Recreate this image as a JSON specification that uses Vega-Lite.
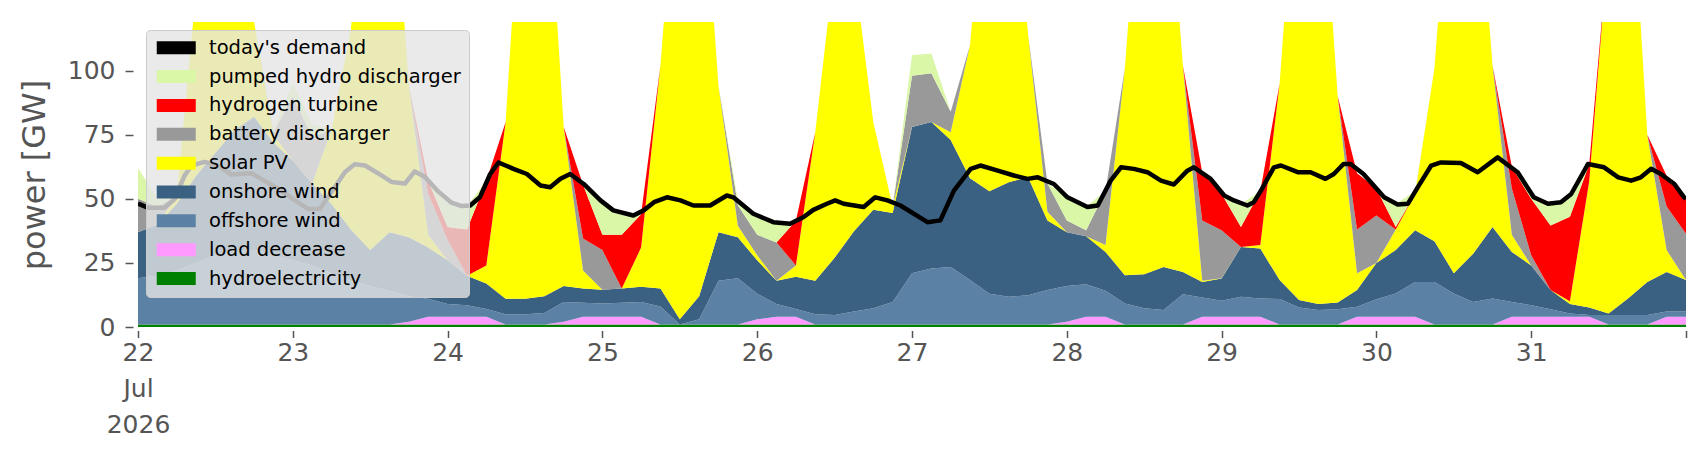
{
  "$schema": "https://vega.github.io/schema/vega-lite/v6.json",
  "width": 1548,
  "height": 305,
  "autosize": "none",
  "padding": {"left": 138, "top": 22, "right": 20, "bottom": 133},
  "background": "white",
  "config": {
    "view": {"stroke": null},
    "font": "DejaVu Sans",
    "axis": {
      "grid": false,
      "domain": false,
      "tickColor": "#555555",
      "tickWidth": 1.5,
      "labelColor": "#555555",
      "labelFontSize": 25,
      "titleColor": "#555555",
      "titleFontWeight": "normal"
    }
  },
  "datasets": {
    "carriers": [
      {"key": "hydro", "carrier": "hydroelectricity", "rank": 1},
      {"key": "load", "carrier": "load decrease", "rank": 2},
      {"key": "offwind", "carrier": "offshore wind", "rank": 3},
      {"key": "onwind", "carrier": "onshore wind", "rank": 4},
      {"key": "solar", "carrier": "solar PV", "rank": 5},
      {"key": "battery", "carrier": "battery discharger", "rank": 6},
      {"key": "h2", "carrier": "hydrogen turbine", "rank": 7},
      {"key": "phs", "carrier": "pumped hydro discharger", "rank": 8}
    ],
    "gen": [
      {"t": "2026-07-22T00:00Z", "hydro": 1, "load": 0, "offwind": 18, "onwind": 18, "solar": 0, "battery": 13, "h2": 0, "phs": 12},
      {"t": "2026-07-22T03:00Z", "hydro": 1, "load": 0, "offwind": 19, "onwind": 20, "solar": 0, "battery": 7, "h2": 0, "phs": 3},
      {"t": "2026-07-22T06:00Z", "hydro": 1, "load": 0, "offwind": 21, "onwind": 26, "solar": 3, "battery": 0, "h2": 0, "phs": 0},
      {"t": "2026-07-22T09:00Z", "hydro": 1, "load": 0, "offwind": 24, "onwind": 34, "solar": 72, "battery": 0, "h2": 0, "phs": 0},
      {"t": "2026-07-22T12:00Z", "hydro": 1, "load": 0, "offwind": 27, "onwind": 40, "solar": 132, "battery": 0, "h2": 0, "phs": 0},
      {"t": "2026-07-22T15:00Z", "hydro": 1, "load": 0, "offwind": 29, "onwind": 47, "solar": 123, "battery": 0, "h2": 0, "phs": 0},
      {"t": "2026-07-22T18:00Z", "hydro": 1, "load": 0, "offwind": 29, "onwind": 52, "solar": 37, "battery": 0, "h2": 0, "phs": 0},
      {"t": "2026-07-22T21:00Z", "hydro": 1, "load": 0, "offwind": 27, "onwind": 44, "solar": 3, "battery": 1, "h2": 0, "phs": 1},
      {"t": "2026-07-23T00:00Z", "hydro": 1, "load": 0, "offwind": 25, "onwind": 39, "solar": 0, "battery": 25, "h2": 0, "phs": 5},
      {"t": "2026-07-23T03:00Z", "hydro": 1, "load": 0, "offwind": 23, "onwind": 32, "solar": 0, "battery": 18, "h2": 0, "phs": 5},
      {"t": "2026-07-23T06:00Z", "hydro": 1, "load": 0, "offwind": 20, "onwind": 27, "solar": 29, "battery": 0, "h2": 0, "phs": 0},
      {"t": "2026-07-23T09:00Z", "hydro": 1, "load": 0, "offwind": 17, "onwind": 20, "solar": 78, "battery": 0, "h2": 0, "phs": 0},
      {"t": "2026-07-23T12:00Z", "hydro": 1, "load": 0, "offwind": 15, "onwind": 14, "solar": 170, "battery": 0, "h2": 0, "phs": 0},
      {"t": "2026-07-23T15:00Z", "hydro": 1, "load": 0, "offwind": 13, "onwind": 23, "solar": 163, "battery": 0, "h2": 0, "phs": 0},
      {"t": "2026-07-23T18:00Z", "hydro": 1, "load": 1, "offwind": 10, "onwind": 23, "solar": 59, "battery": 0, "h2": 0, "phs": 0},
      {"t": "2026-07-23T21:00Z", "hydro": 1, "load": 3, "offwind": 7, "onwind": 20, "solar": 5, "battery": 16, "h2": 5, "phs": 0},
      {"t": "2026-07-24T00:00Z", "hydro": 1, "load": 3, "offwind": 5, "onwind": 17, "solar": 0, "battery": 8, "h2": 5, "phs": 9},
      {"t": "2026-07-24T03:00Z", "hydro": 1, "load": 3, "offwind": 4.5, "onwind": 11.5, "solar": 0, "battery": 0, "h2": 18, "phs": 9},
      {"t": "2026-07-24T06:00Z", "hydro": 1, "load": 3, "offwind": 3, "onwind": 10, "solar": 7, "battery": 0, "h2": 33, "phs": 0},
      {"t": "2026-07-24T09:00Z", "hydro": 1, "load": 0, "offwind": 4, "onwind": 6, "solar": 69, "battery": 0, "h2": 0, "phs": 0},
      {"t": "2026-07-24T12:00Z", "hydro": 1, "load": 0, "offwind": 4, "onwind": 6, "solar": 189, "battery": 0, "h2": 0, "phs": 0},
      {"t": "2026-07-24T15:00Z", "hydro": 1, "load": 0, "offwind": 4.5, "onwind": 6.5, "solar": 188, "battery": 0, "h2": 0, "phs": 0},
      {"t": "2026-07-24T18:00Z", "hydro": 1, "load": 1, "offwind": 7.8, "onwind": 6.2, "solar": 62, "battery": 0, "h2": 0, "phs": 0},
      {"t": "2026-07-24T21:00Z", "hydro": 1, "load": 3, "offwind": 5.5, "onwind": 5.5, "solar": 7, "battery": 12.5, "h2": 21, "phs": 0},
      {"t": "2026-07-25T00:00Z", "hydro": 1, "load": 3, "offwind": 5.2, "onwind": 5.3, "solar": 0, "battery": 15.5, "h2": 6, "phs": 12},
      {"t": "2026-07-25T03:00Z", "hydro": 1, "load": 3, "offwind": 5.5, "onwind": 5.5, "solar": 0, "battery": 0, "h2": 21, "phs": 8.5},
      {"t": "2026-07-25T06:00Z", "hydro": 1, "load": 3, "offwind": 5.8, "onwind": 5.9, "solar": 15.3, "battery": 0, "h2": 13, "phs": 0},
      {"t": "2026-07-25T09:00Z", "hydro": 1, "load": 0, "offwind": 7, "onwind": 7, "solar": 87, "battery": 0, "h2": 0, "phs": 0},
      {"t": "2026-07-25T12:00Z", "hydro": 1, "load": 0, "offwind": 0, "onwind": 2, "solar": 197, "battery": 0, "h2": 0, "phs": 0},
      {"t": "2026-07-25T15:00Z", "hydro": 1, "load": 0, "offwind": 2, "onwind": 9, "solar": 188, "battery": 0, "h2": 0, "phs": 0},
      {"t": "2026-07-25T18:00Z", "hydro": 1, "load": 0, "offwind": 17, "onwind": 19, "solar": 57, "battery": 0, "h2": 0, "phs": 0},
      {"t": "2026-07-25T21:00Z", "hydro": 1, "load": 0, "offwind": 18, "onwind": 16, "solar": 4.5, "battery": 8, "h2": 0, "phs": 2},
      {"t": "2026-07-26T00:00Z", "hydro": 1, "load": 2, "offwind": 10, "onwind": 13, "solar": 2, "battery": 8, "h2": 0, "phs": 6.5},
      {"t": "2026-07-26T03:00Z", "hydro": 1, "load": 3, "offwind": 5, "onwind": 9, "solar": 0, "battery": 15, "h2": 0, "phs": 7.6},
      {"t": "2026-07-26T06:00Z", "hydro": 1, "load": 3, "offwind": 3, "onwind": 12.6, "solar": 4.4, "battery": 0, "h2": 17.5, "phs": 0},
      {"t": "2026-07-26T09:00Z", "hydro": 1, "load": 0, "offwind": 4, "onwind": 13, "solar": 58, "battery": 0, "h2": 0, "phs": 0},
      {"t": "2026-07-26T12:00Z", "hydro": 1, "load": 0, "offwind": 3.7, "onwind": 22.3, "solar": 115, "battery": 0, "h2": 0, "phs": 0},
      {"t": "2026-07-26T15:00Z", "hydro": 1, "load": 0, "offwind": 5, "onwind": 31.4, "solar": 102.6, "battery": 0, "h2": 0, "phs": 0},
      {"t": "2026-07-26T18:00Z", "hydro": 1, "load": 0, "offwind": 6.3, "onwind": 38.4, "solar": 34.3, "battery": 0, "h2": 0, "phs": 0},
      {"t": "2026-07-26T21:00Z", "hydro": 1, "load": 0, "offwind": 8.8, "onwind": 34.7, "solar": 2.5, "battery": 0, "h2": 0, "phs": 0},
      {"t": "2026-07-27T00:00Z", "hydro": 1, "load": 0, "offwind": 20, "onwind": 57, "solar": 0, "battery": 20, "h2": 0, "phs": 8},
      {"t": "2026-07-27T03:00Z", "hydro": 1, "load": 0, "offwind": 21.8, "onwind": 57.2, "solar": 0, "battery": 19, "h2": 0, "phs": 7.7},
      {"t": "2026-07-27T06:00Z", "hydro": 1, "load": 0, "offwind": 22.4, "onwind": 49.6, "solar": 3, "battery": 8, "h2": 0, "phs": 0},
      {"t": "2026-07-27T09:00Z", "hydro": 1, "load": 0, "offwind": 17.3, "onwind": 39.7, "solar": 52, "battery": 0, "h2": 0, "phs": 0},
      {"t": "2026-07-27T12:00Z", "hydro": 1, "load": 0, "offwind": 12, "onwind": 40, "solar": 147, "battery": 0, "h2": 0, "phs": 0},
      {"t": "2026-07-27T15:00Z", "hydro": 1, "load": 0, "offwind": 10.8, "onwind": 44.7, "solar": 143.5, "battery": 0, "h2": 0, "phs": 0},
      {"t": "2026-07-27T18:00Z", "hydro": 1, "load": 0, "offwind": 11.4, "onwind": 46, "solar": 55.6, "battery": 0, "h2": 0, "phs": 0},
      {"t": "2026-07-27T21:00Z", "hydro": 1, "load": 0, "offwind": 13.4, "onwind": 27.2, "solar": 3.4, "battery": 11, "h2": 0, "phs": 0},
      {"t": "2026-07-28T00:00Z", "hydro": 1, "load": 1, "offwind": 14, "onwind": 21, "solar": 0, "battery": 4.6, "h2": 0, "phs": 9.2},
      {"t": "2026-07-28T03:00Z", "hydro": 1, "load": 3, "offwind": 12.7, "onwind": 18.7, "solar": 0, "battery": 2.3, "h2": 0, "phs": 9.3},
      {"t": "2026-07-28T06:00Z", "hydro": 1, "load": 3, "offwind": 10.1, "onwind": 15.2, "solar": 2.7, "battery": 21, "h2": 0, "phs": 0},
      {"t": "2026-07-28T09:00Z", "hydro": 1, "load": 0, "offwind": 8.2, "onwind": 11, "solar": 80.8, "battery": 0, "h2": 0, "phs": 0},
      {"t": "2026-07-28T12:00Z", "hydro": 1, "load": 0, "offwind": 6.3, "onwind": 13.3, "solar": 179.4, "battery": 0, "h2": 0, "phs": 0},
      {"t": "2026-07-28T15:00Z", "hydro": 1, "load": 0, "offwind": 5.6, "onwind": 16.8, "solar": 176.6, "battery": 0, "h2": 0, "phs": 0},
      {"t": "2026-07-28T18:00Z", "hydro": 1, "load": 0, "offwind": 11.8, "onwind": 8.7, "solar": 80.5, "battery": 0, "h2": 0, "phs": 0},
      {"t": "2026-07-28T21:00Z", "hydro": 1, "load": 3, "offwind": 7.5, "onwind": 6.1, "solar": 0.4, "battery": 23.6, "h2": 18.7, "phs": 0},
      {"t": "2026-07-29T00:00Z", "hydro": 1, "load": 3, "offwind": 6.2, "onwind": 8.7, "solar": 0.1, "battery": 18.7, "h2": 14.3, "phs": 0},
      {"t": "2026-07-29T03:00Z", "hydro": 1, "load": 3, "offwind": 7.8, "onwind": 19.4, "solar": 0, "battery": 0, "h2": 7.8, "phs": 9},
      {"t": "2026-07-29T06:00Z", "hydro": 1, "load": 3, "offwind": 7.1, "onwind": 19.5, "solar": 1.4, "battery": 0, "h2": 21, "phs": 0},
      {"t": "2026-07-29T09:00Z", "hydro": 1, "load": 0, "offwind": 9.9, "onwind": 7.4, "solar": 76.7, "battery": 0, "h2": 0, "phs": 0},
      {"t": "2026-07-29T12:00Z", "hydro": 1, "load": 0, "offwind": 6.6, "onwind": 2.9, "solar": 189.5, "battery": 0, "h2": 0, "phs": 0},
      {"t": "2026-07-29T15:00Z", "hydro": 1, "load": 0, "offwind": 5.6, "onwind": 2.4, "solar": 191, "battery": 0, "h2": 0, "phs": 0},
      {"t": "2026-07-29T18:00Z", "hydro": 1, "load": 0, "offwind": 5.9, "onwind": 2.7, "solar": 80.4, "battery": 0, "h2": 0, "phs": 0},
      {"t": "2026-07-29T21:00Z", "hydro": 1, "load": 3, "offwind": 3.9, "onwind": 6.5, "solar": 6.6, "battery": 17, "h2": 22, "phs": 0},
      {"t": "2026-07-30T00:00Z", "hydro": 1, "load": 3, "offwind": 6.8, "onwind": 14.2, "solar": 0, "battery": 18.5, "h2": 10.5, "phs": 0},
      {"t": "2026-07-30T03:00Z", "hydro": 1, "load": 3, "offwind": 9.1, "onwind": 16.9, "solar": 8, "battery": 0, "h2": 1, "phs": 9},
      {"t": "2026-07-30T06:00Z", "hydro": 1, "load": 3, "offwind": 13.6, "onwind": 20.1, "solar": 14.3, "battery": 0, "h2": 0, "phs": 1},
      {"t": "2026-07-30T09:00Z", "hydro": 1, "load": 0, "offwind": 16.6, "onwind": 15.9, "solar": 67.5, "battery": 0, "h2": 0, "phs": 0},
      {"t": "2026-07-30T12:00Z", "hydro": 1, "load": 0, "offwind": 12.1, "onwind": 7.9, "solar": 179, "battery": 0, "h2": 0, "phs": 0},
      {"t": "2026-07-30T15:00Z", "hydro": 1, "load": 0, "offwind": 8.8, "onwind": 18.8, "solar": 171.4, "battery": 0, "h2": 0, "phs": 0},
      {"t": "2026-07-30T18:00Z", "hydro": 1, "load": 0, "offwind": 10.1, "onwind": 27.9, "solar": 63, "battery": 0, "h2": 0, "phs": 0},
      {"t": "2026-07-30T21:00Z", "hydro": 1, "load": 3, "offwind": 5.8, "onwind": 19.5, "solar": 6.7, "battery": 18, "h2": 8.5, "phs": 0},
      {"t": "2026-07-31T00:00Z", "hydro": 1, "load": 3, "offwind": 4.5, "onwind": 15.5, "solar": 0, "battery": 4, "h2": 22, "phs": 2},
      {"t": "2026-07-31T03:00Z", "hydro": 1, "load": 3, "offwind": 2.9, "onwind": 7.5, "solar": 0, "battery": 0, "h2": 25.2, "phs": 8.4},
      {"t": "2026-07-31T06:00Z", "hydro": 1, "load": 3, "offwind": 1.3, "onwind": 3.7, "solar": 1, "battery": 0, "h2": 33, "phs": 8},
      {"t": "2026-07-31T09:00Z", "hydro": 1, "load": 3, "offwind": 0.7, "onwind": 2.9, "solar": 49.4, "battery": 0, "h2": 6.5, "phs": 0},
      {"t": "2026-07-31T12:00Z", "hydro": 1, "load": 0, "offwind": 3.7, "onwind": 0.6, "solar": 144.7, "battery": 0, "h2": 0, "phs": 0},
      {"t": "2026-07-31T15:00Z", "hydro": 1, "load": 0, "offwind": 3.7, "onwind": 6.4, "solar": 188.9, "battery": 0, "h2": 0, "phs": 0},
      {"t": "2026-07-31T18:00Z", "hydro": 1, "load": 0, "offwind": 3.7, "onwind": 12.9, "solar": 57.4, "battery": 0, "h2": 0, "phs": 0},
      {"t": "2026-07-31T21:00Z", "hydro": 1, "load": 3, "offwind": 2, "onwind": 15.5, "solar": 8.5, "battery": 17, "h2": 12, "phs": 0},
      {"t": "2026-08-01T00:00Z", "hydro": 1, "load": 3, "offwind": 2, "onwind": 12.3, "solar": 0, "battery": 18.1, "h2": 13.6, "phs": 0}
    ],
    "demand": [
      {"t": "2026-07-22T00:00Z", "GW": 48.2}, {"t": "2026-07-22T01:36Z", "GW": 46.5}, {"t": "2026-07-22T04:06Z", "GW": 46.5},
      {"t": "2026-07-22T05:42Z", "GW": 50}, {"t": "2026-07-22T07:12Z", "GW": 59}, {"t": "2026-07-22T08:18Z", "GW": 63},
      {"t": "2026-07-22T10:18Z", "GW": 64.4}, {"t": "2026-07-22T12:24Z", "GW": 63}, {"t": "2026-07-22T14:30Z", "GW": 59.5},
      {"t": "2026-07-22T17:36Z", "GW": 60}, {"t": "2026-07-22T19:36Z", "GW": 57}, {"t": "2026-07-22T21:42Z", "GW": 54},
      {"t": "2026-07-23T00:18Z", "GW": 49.5}, {"t": "2026-07-23T02:24Z", "GW": 46}, {"t": "2026-07-23T04:12Z", "GW": 46},
      {"t": "2026-07-23T06:00Z", "GW": 52.7}, {"t": "2026-07-23T08:06Z", "GW": 60.5}, {"t": "2026-07-23T09:36Z", "GW": 63.5},
      {"t": "2026-07-23T11:12Z", "GW": 63}, {"t": "2026-07-23T13:12Z", "GW": 60}, {"t": "2026-07-23T15:18Z", "GW": 56.6},
      {"t": "2026-07-23T17:24Z", "GW": 56}, {"t": "2026-07-23T18:54Z", "GW": 60.7}, {"t": "2026-07-23T20:30Z", "GW": 58.5},
      {"t": "2026-07-23T22:30Z", "GW": 53}, {"t": "2026-07-24T00:36Z", "GW": 48.5}, {"t": "2026-07-24T02:12Z", "GW": 47.2},
      {"t": "2026-07-24T03:30Z", "GW": 47.4}, {"t": "2026-07-24T05:00Z", "GW": 50.6}, {"t": "2026-07-24T06:36Z", "GW": 59.7},
      {"t": "2026-07-24T07:54Z", "GW": 64.2}, {"t": "2026-07-24T10:12Z", "GW": 61.7}, {"t": "2026-07-24T12:18Z", "GW": 59.7},
      {"t": "2026-07-24T14:24Z", "GW": 55.2}, {"t": "2026-07-24T15:54Z", "GW": 54.5}, {"t": "2026-07-24T17:30Z", "GW": 57.8},
      {"t": "2026-07-24T19:00Z", "GW": 59.7}, {"t": "2026-07-24T21:06Z", "GW": 55.8}, {"t": "2026-07-24T23:42Z", "GW": 49.4},
      {"t": "2026-07-25T01:42Z", "GW": 45.5}, {"t": "2026-07-25T04:48Z", "GW": 43.5}, {"t": "2026-07-25T06:24Z", "GW": 45.5},
      {"t": "2026-07-25T08:00Z", "GW": 48.7}, {"t": "2026-07-25T10:00Z", "GW": 50.6}, {"t": "2026-07-25T12:06Z", "GW": 49.4},
      {"t": "2026-07-25T14:06Z", "GW": 47.4}, {"t": "2026-07-25T16:42Z", "GW": 47.4}, {"t": "2026-07-25T19:18Z", "GW": 51.3},
      {"t": "2026-07-25T20:18Z", "GW": 50.6}, {"t": "2026-07-25T23:24Z", "GW": 44.2}, {"t": "2026-07-26T02:30Z", "GW": 40.9},
      {"t": "2026-07-26T05:06Z", "GW": 40.3}, {"t": "2026-07-26T07:12Z", "GW": 42.9}, {"t": "2026-07-26T08:42Z", "GW": 45.7},
      {"t": "2026-07-26T10:48Z", "GW": 48.1}, {"t": "2026-07-26T12:06Z", "GW": 49.4}, {"t": "2026-07-26T13:24Z", "GW": 48.1},
      {"t": "2026-07-26T16:30Z", "GW": 46.8}, {"t": "2026-07-26T18:18Z", "GW": 50.6}, {"t": "2026-07-26T20:12Z", "GW": 49.4},
      {"t": "2026-07-26T22:12Z", "GW": 47.4}, {"t": "2026-07-27T02:24Z", "GW": 40.9}, {"t": "2026-07-27T04:24Z", "GW": 41.6},
      {"t": "2026-07-27T06:30Z", "GW": 53.2}, {"t": "2026-07-27T09:06Z", "GW": 61.7}, {"t": "2026-07-27T10:36Z", "GW": 63},
      {"t": "2026-07-27T13:18Z", "GW": 61}, {"t": "2026-07-27T15:48Z", "GW": 59.1}, {"t": "2026-07-27T17:54Z", "GW": 57.8},
      {"t": "2026-07-27T19:30Z", "GW": 58.4}, {"t": "2026-07-27T22:00Z", "GW": 55.8}, {"t": "2026-07-28T00:06Z", "GW": 50.6},
      {"t": "2026-07-28T03:12Z", "GW": 46.8}, {"t": "2026-07-28T04:48Z", "GW": 47.4}, {"t": "2026-07-28T06:48Z", "GW": 57.1},
      {"t": "2026-07-28T08:24Z", "GW": 62.3}, {"t": "2026-07-28T10:24Z", "GW": 61.7}, {"t": "2026-07-28T12:30Z", "GW": 60.4},
      {"t": "2026-07-28T14:36Z", "GW": 57.1}, {"t": "2026-07-28T16:36Z", "GW": 55.6}, {"t": "2026-07-28T18:42Z", "GW": 61},
      {"t": "2026-07-28T19:42Z", "GW": 62.3}, {"t": "2026-07-28T22:18Z", "GW": 57.8}, {"t": "2026-07-29T00:24Z", "GW": 51.3},
      {"t": "2026-07-29T01:54Z", "GW": 49.4}, {"t": "2026-07-29T04:00Z", "GW": 47.4}, {"t": "2026-07-29T05:00Z", "GW": 48.7},
      {"t": "2026-07-29T06:06Z", "GW": 53.2}, {"t": "2026-07-29T08:06Z", "GW": 62.3}, {"t": "2026-07-29T09:12Z", "GW": 63},
      {"t": "2026-07-29T11:48Z", "GW": 60.4}, {"t": "2026-07-29T13:48Z", "GW": 60.4}, {"t": "2026-07-29T16:06Z", "GW": 57.8},
      {"t": "2026-07-29T17:24Z", "GW": 59.7}, {"t": "2026-07-29T18:54Z", "GW": 63.6}, {"t": "2026-07-29T20:00Z", "GW": 63.6},
      {"t": "2026-07-29T22:00Z", "GW": 59.7}, {"t": "2026-07-30T01:12Z", "GW": 50.6}, {"t": "2026-07-30T03:18Z", "GW": 47.8},
      {"t": "2026-07-30T04:54Z", "GW": 48.1}, {"t": "2026-07-30T06:24Z", "GW": 54.5}, {"t": "2026-07-30T08:30Z", "GW": 63},
      {"t": "2026-07-30T10:00Z", "GW": 64.2}, {"t": "2026-07-30T13:06Z", "GW": 64}, {"t": "2026-07-30T15:42Z", "GW": 60.4},
      {"t": "2026-07-30T18:48Z", "GW": 66.2}, {"t": "2026-07-30T21:54Z", "GW": 60.4}, {"t": "2026-07-31T00:24Z", "GW": 50.6},
      {"t": "2026-07-31T02:36Z", "GW": 48.1}, {"t": "2026-07-31T04:36Z", "GW": 48.7}, {"t": "2026-07-31T06:12Z", "GW": 51.9},
      {"t": "2026-07-31T08:48Z", "GW": 63.6}, {"t": "2026-07-31T11:18Z", "GW": 62.3}, {"t": "2026-07-31T13:30Z", "GW": 58.4},
      {"t": "2026-07-31T15:30Z", "GW": 57.1}, {"t": "2026-07-31T17:00Z", "GW": 58.4}, {"t": "2026-07-31T18:36Z", "GW": 61.7},
      {"t": "2026-07-31T20:06Z", "GW": 59.7}, {"t": "2026-07-31T22:12Z", "GW": 55.8}, {"t": "2026-07-31T23:42Z", "GW": 50.6},
      {"t": "2026-08-01T00:00Z", "GW": 50}
    ]
  },
  "layer": [
    {
      "data": {"name": "gen"},
      "transform": [
        {"fold": ["hydro", "load", "offwind", "onwind", "solar", "battery", "h2", "phs"], "as": ["key", "GW"]},
        {"lookup": "key", "from": {"data": {"name": "carriers"}, "key": "key", "fields": ["carrier", "rank"]}}
      ],
      "mark": {"type": "area", "clip": true, "interpolate": "linear"},
      "encoding": {
        "x": {
          "field": "t",
          "type": "temporal",
          "scale": {
            "type": "utc",
            "domain": [
              {"year": 2026, "month": 7, "date": 22, "utc": true},
              {"year": 2026, "month": 8, "date": 1, "utc": true}
            ]
          },
          "axis": {
            "title": null,
            "offset": 3.5,
            "tickSize": 7,
            "labelPadding": 3,
            "labelLineHeight": 36,
            "labelAlign": "center",
            "values": [
              {"year": 2026, "month": 7, "date": 22, "utc": true},
              {"year": 2026, "month": 7, "date": 23, "utc": true},
              {"year": 2026, "month": 7, "date": 24, "utc": true},
              {"year": 2026, "month": 7, "date": 25, "utc": true},
              {"year": 2026, "month": 7, "date": 26, "utc": true},
              {"year": 2026, "month": 7, "date": 27, "utc": true},
              {"year": 2026, "month": 7, "date": 28, "utc": true},
              {"year": 2026, "month": 7, "date": 29, "utc": true},
              {"year": 2026, "month": 7, "date": 30, "utc": true},
              {"year": 2026, "month": 7, "date": 31, "utc": true},
              {"year": 2026, "month": 8, "date": 1, "utc": true}
            ],
            "labelExpr": "utcdate(datum.value) === 22 ? ['22', 'Jul', '2026'] : (utcdate(datum.value) === 1 ? '' : utcFormat(datum.value, '%d'))"
          }
        },
        "y": {
          "field": "GW",
          "type": "quantitative",
          "stack": "zero",
          "scale": {"domain": [0, 119], "nice": false, "zero": true},
          "axis": {
            "title": "power [GW]",
            "titleFontSize": 32,
            "titlePadding": 16,
            "values": [0, 25, 50, 75, 100],
            "offset": 5,
            "tickSize": 8,
            "labelPadding": 10
          }
        },
        "color": {
          "field": "carrier",
          "type": "nominal",
          "scale": {
            "domain": ["today's demand", "pumped hydro discharger", "hydrogen turbine", "battery discharger", "solar PV", "onshore wind", "offshore wind", "load decrease", "hydroelectricity"],
            "range": ["#000000", "#d9f7a6", "#ff0000", "#999999", "#ffff00", "#3b6182", "#5b82a5", "#ff99ff", "#008000"]
          },
          "legend": {
            "title": null,
            "orient": "top-left",
            "offset": 8,
            "fillColor": "rgba(229,229,229,0.8)",
            "strokeColor": "#cccccc",
            "cornerRadius": 4,
            "padding": 8,
            "labelFontSize": 19.5,
            "labelColor": "#000000",
            "labelLimit": 0,
            "labelOffset": 23,
            "rowPadding": 7.85,
            "symbolType": "M-2.786,-0.929H2.786V0.929H-2.786Z",
            "symbolSize": 196,
            "symbolOffset": 12.5,
            "symbolStrokeWidth": 0,
            "symbolOpacity": 1
          }
        },
        "order": {"field": "rank", "type": "quantitative"}
      }
    },
    {
      "data": {"name": "demand"},
      "mark": {"type": "line", "strokeWidth": 4.5, "clip": true, "strokeJoin": "round"},
      "encoding": {
        "x": {"field": "t", "type": "temporal"},
        "y": {"field": "GW", "type": "quantitative"},
        "color": {"datum": "today's demand"}
      }
    }
  ]
}
